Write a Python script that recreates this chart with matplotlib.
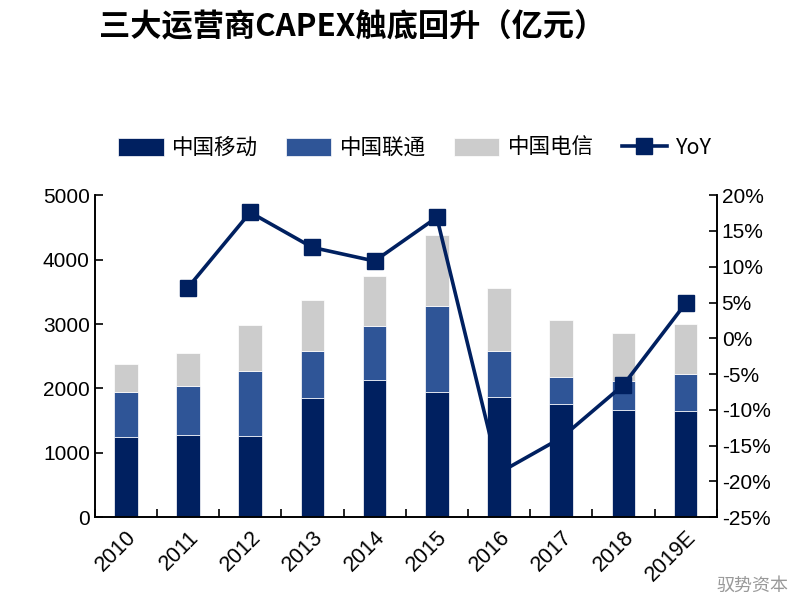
import matplotlib
matplotlib.use("Agg")
import matplotlib.pyplot as plt
import numpy as np

plt.rcParams['font.family'] = ['Liberation Sans', 'Noto Sans CJK SC', 'DejaVu Sans']

years = ['2010', '2011', '2012', '2013', '2014', '2015', '2016', '2017', '2018', '2019E']
mobile = [1243, 1270, 1259, 1845, 2135, 1948, 1865, 1751, 1668, 1653]
unicom = [700, 771, 1010, 730, 834, 1337, 721, 425, 446, 570]
telecom = [431, 503, 721, 798, 772, 1093, 969, 886, 751, 782]
yoy = [np.nan, 7.1, 17.6, 12.7, 10.8, 16.9, -18.8, -13.9, -6.5, 4.9]

c_mobile = '#002060'
c_unicom = '#2F5597'
c_telecom = '#CCCCCC'

fig = plt.figure(figsize=(8.09, 6.10), dpi=100)
ax = fig.add_axes([0.117, 0.152, 0.769, 0.528])
ax2 = ax.twinx()

x = np.arange(len(years))
w = 0.38
mobile = np.array(mobile)
unicom = np.array(unicom)
telecom = np.array(telecom)
b1 = ax.bar(x, mobile, w, color=c_mobile, edgecolor='white', linewidth=0.5, zorder=2)
b2 = ax.bar(x, unicom, w, bottom=mobile, color=c_unicom, edgecolor='white', linewidth=0.5, zorder=2)
b3 = ax.bar(x, telecom, w, bottom=mobile + unicom, color=c_telecom, edgecolor='white', linewidth=0.5, zorder=2)

ln, = ax2.plot(x, yoy, color=c_mobile, lw=2.6, marker='s', markersize=11, zorder=3)

ax.set_xlim(-0.5, len(years) - 0.5)
ax.set_ylim(0, 5000)
ax.set_yticks(range(0, 5001, 1000))
ax.tick_params(axis='y', direction='in', length=6, labelsize=15, width=1.2)
ax.set_xticks(np.arange(-0.5, len(years), 1), minor=False)
ax.set_xticklabels([])
ax.tick_params(axis='x', direction='in', length=6, width=1.2)
ax.set_xticks(x, minor=True)
ax.set_xticklabels(years, minor=True, rotation=45, ha='right', va='top',
                   rotation_mode='anchor', fontsize=15.5)
ax.tick_params(axis='x', which='minor', length=0, pad=7)

ax2.set_ylim(-25, 20)
ticks2 = list(range(-25, 21, 5))
ax2.set_yticks(ticks2)
ax2.set_yticklabels([f'{t}%' for t in ticks2])
ax2.tick_params(axis='y', direction='in', length=6, labelsize=15, width=1.2)

for a in (ax, ax2):
    a.spines['top'].set_visible(False)
    for s in ('left', 'right', 'bottom'):
        a.spines[s].set_linewidth(1.2)

fig.text(0.122, 0.955, '三大运营商CAPEX触底回升（亿元）', fontsize=22.5, fontweight='bold',
         ha='left', va='center', family=['Noto Sans CJK SC', 'DejaVu Sans'])

leg = fig.legend([b1, b2, b3, ln], ['中国移动', '中国联通', '中国电信', 'YoY'],
                 loc='center', bbox_to_anchor=(0.513, 0.757), ncol=4, frameon=False,
                 handlelength=2.1, handleheight=0.9, columnspacing=1.3,
                 handletextpad=0.4, prop={'family': ['Noto Sans CJK SC', 'DejaVu Sans'], 'size': 15.5})

fig.text(0.975, 0.04, '驭势资本', fontsize=13, color='#999999', ha='right', va='center',
         family=['Noto Sans CJK SC', 'DejaVu Sans'])

fig.savefig('out.png', dpi=100)
